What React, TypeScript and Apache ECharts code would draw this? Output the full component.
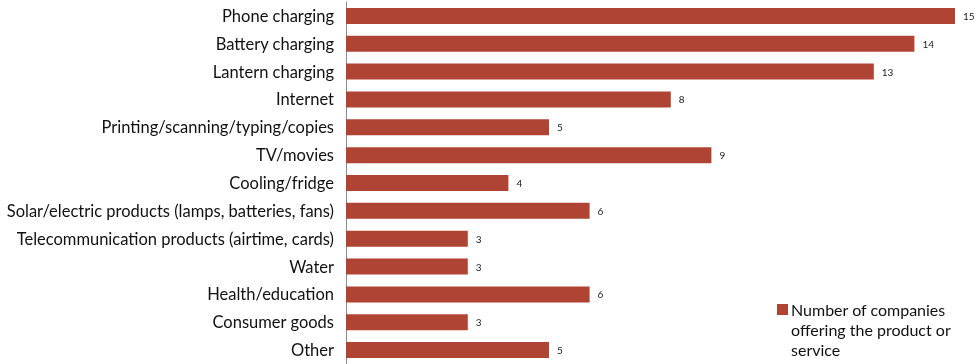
import React, { useEffect, useRef } from "react";
import * as echarts from "echarts";

const categories = [
  "Phone charging",
  "Battery charging",
  "Lantern charging",
  "Internet",
  "Printing/scanning/typing/copies",
  "TV/movies",
  "Cooling/fridge",
  "Solar/electric products (lamps, batteries, fans)",
  "Telecommunication products (airtime, cards)",
  "Water",
  "Health/education",
  "Consumer goods",
  "Other",
];
const values = [15, 14, 13, 8, 5, 9, 4, 6, 3, 3, 6, 3, 5];
const seriesName = "Number of companies offering the product or service";
const legendLines = ["Number of companies", "offering the product or", "service"];

const FONT = "Lato, 'Open Sans', sans-serif";
const BAR = "#B04434";

export default function App() {
  const ref = useRef<HTMLDivElement>(null);
  useEffect(() => {
    const chart = echarts.init(ref.current!, undefined, { renderer: "svg" });
    chart.setOption({
      animation: false,
      grid: { left: 346, top: 2, width: 609, height: 364, containLabel: false },
      xAxis: {
        type: "value",
        min: 0,
        max: 15,
        show: false,
      },
      yAxis: {
        type: "category",
        data: categories,
        inverse: true,
        axisLine: { show: true, lineStyle: { color: "#8c8c8c", width: 1 } },
        axisTick: { show: false },
        axisLabel: { color: "#111", fontSize: 16.5, fontFamily: FONT, margin: 12 },
        splitLine: { show: false },
      },
      series: [
        {
          name: seriesName,
          type: "bar",
          data: values,
          barWidth: 16,
          itemStyle: { color: BAR },
          label: {
            show: true,
            position: "right",
            distance: 8,
            color: "#222",
            fontSize: 10,
            fontFamily: FONT,
          },
        },
      ],
      graphic: [
        {
          type: "rect",
          left: 777,
          top: 304,
          shape: { width: 11, height: 11 },
          style: { fill: BAR },
        },
        {
          type: "text",
          left: 791,
          top: 299,
          style: {
            text: legendLines.join("\n"),
            fill: "#111",
            font: `16px ${FONT}`,
            lineHeight: 20,
          },
        },
      ],
    });
    return () => chart.dispose();
  }, []);
  return <div ref={ref} style={{ width: 978, height: 364, position: "fixed", left: 0, top: 0 }} />;
}
